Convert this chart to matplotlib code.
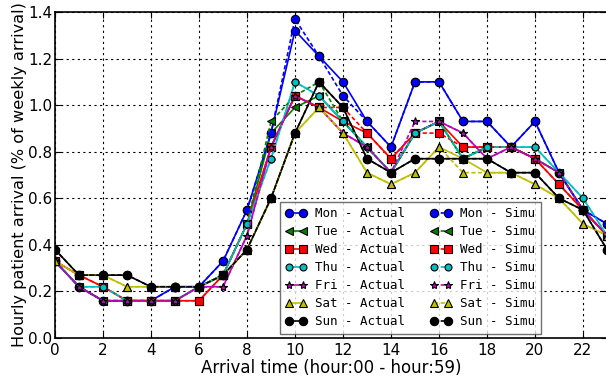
import matplotlib
matplotlib.use("Agg")
import matplotlib.pyplot as plt

hours = list(range(24))

# hourly arrival share (% of weekly arrival)
mon_actual = [0.33, 0.22, 0.16, 0.16, 0.16, 0.22, 0.22, 0.33, 0.55, 0.88, 1.32, 1.21,
              1.10, 0.93, 0.82, 1.10, 1.10, 0.93, 0.93, 0.82, 0.93, 0.71, 0.55, 0.49]
mon_simu = [0.33, 0.22, 0.16, 0.16, 0.16, 0.22, 0.22, 0.33, 0.55, 0.88, 1.37, 1.21,
            1.04, 0.93, 0.82, 1.10, 1.10, 0.93, 0.93, 0.82, 0.93, 0.71, 0.55, 0.49]
tue_actual = [0.33, 0.22, 0.16, 0.16, 0.16, 0.16, 0.22, 0.27, 0.49, 0.88, 0.99, 1.04,
              0.93, 0.82, 0.71, 0.88, 0.93, 0.77, 0.82, 0.82, 0.77, 0.71, 0.55, 0.44]
tue_simu = [0.33, 0.22, 0.16, 0.16, 0.16, 0.16, 0.22, 0.27, 0.49, 0.93, 1.04, 1.10,
            0.93, 0.82, 0.71, 0.88, 0.93, 0.77, 0.82, 0.82, 0.77, 0.71, 0.55, 0.44]
wed_actual = [0.33, 0.27, 0.22, 0.16, 0.16, 0.16, 0.16, 0.27, 0.49, 0.82, 1.04, 0.99,
              0.93, 0.88, 0.77, 0.88, 0.93, 0.82, 0.82, 0.82, 0.77, 0.66, 0.55, 0.44]
wed_simu = [0.33, 0.27, 0.22, 0.16, 0.16, 0.16, 0.16, 0.27, 0.49, 0.82, 1.04, 0.99,
            0.99, 0.88, 0.77, 0.88, 0.88, 0.82, 0.82, 0.82, 0.77, 0.66, 0.55, 0.44]
thu_actual = [0.33, 0.22, 0.22, 0.16, 0.16, 0.16, 0.22, 0.27, 0.49, 0.77, 1.10, 1.04,
              0.93, 0.82, 0.71, 0.88, 0.93, 0.77, 0.82, 0.82, 0.82, 0.71, 0.60, 0.44]
thu_simu = [0.33, 0.22, 0.22, 0.16, 0.16, 0.16, 0.22, 0.27, 0.49, 0.77, 1.10, 1.04,
            0.93, 0.82, 0.71, 0.88, 0.93, 0.77, 0.82, 0.82, 0.82, 0.71, 0.60, 0.44]
fri_actual = [0.33, 0.22, 0.16, 0.16, 0.16, 0.16, 0.22, 0.22, 0.44, 0.82, 1.04, 0.99,
              0.88, 0.82, 0.71, 0.88, 0.93, 0.88, 0.77, 0.82, 0.77, 0.71, 0.55, 0.44]
fri_simu = [0.33, 0.22, 0.16, 0.16, 0.16, 0.16, 0.22, 0.22, 0.44, 0.82, 1.04, 0.99,
            0.88, 0.82, 0.71, 0.93, 0.93, 0.88, 0.77, 0.82, 0.77, 0.71, 0.55, 0.44]
sat_actual = [0.33, 0.27, 0.27, 0.22, 0.22, 0.22, 0.22, 0.27, 0.38, 0.60, 0.88, 0.99,
              0.88, 0.71, 0.66, 0.71, 0.82, 0.77, 0.71, 0.71, 0.66, 0.60, 0.49, 0.44]
sat_simu = [0.33, 0.27, 0.27, 0.22, 0.22, 0.22, 0.22, 0.27, 0.38, 0.60, 0.88, 0.99,
            0.88, 0.71, 0.66, 0.71, 0.82, 0.71, 0.71, 0.71, 0.66, 0.60, 0.49, 0.44]
sun_actual = [0.38, 0.27, 0.27, 0.27, 0.22, 0.22, 0.22, 0.27, 0.38, 0.60, 0.88, 1.10,
              0.99, 0.77, 0.71, 0.77, 0.77, 0.77, 0.77, 0.71, 0.71, 0.60, 0.55, 0.38]
sun_simu = [0.38, 0.27, 0.27, 0.27, 0.22, 0.22, 0.22, 0.27, 0.38, 0.60, 0.88, 1.10,
            0.99, 0.77, 0.71, 0.77, 0.77, 0.77, 0.77, 0.71, 0.71, 0.60, 0.55, 0.38]

days = ["Mon", "Tue", "Wed", "Thu", "Fri", "Sat", "Sun"]
actual = [mon_actual, tue_actual, wed_actual, thu_actual, fri_actual, sat_actual, sun_actual]
simu = [mon_simu, tue_simu, wed_simu, thu_simu, fri_simu, sat_simu, sun_simu]

# classic (pre-2.0) matplotlib look
colors = ["#0000ff", "#008000", "#ff0000", "#00bfbf", "#bf00bf", "#bfbf00", "#000000"]
markers = ["o", "<", "s", "o", "*", "^", "o"]
msizes = [6, 6, 6, 5, 6, 6, 6]

fig = plt.figure(figsize=(6.06, 3.77), dpi=100)
ax = fig.add_axes([55 / 606, 39 / 377, 552 / 606, 326 / 377])

handles = []
for i, d in enumerate(days):
    h, = ax.plot(hours, actual[i], color=colors[i], marker=markers[i], ms=msizes[i],
                 mec="k", mew=0.8, lw=1.2, label=f"{d} - Actual")
    handles.append(h)
for i, d in enumerate(days):
    h, = ax.plot(hours, simu[i], color=colors[i], marker=markers[i], ms=msizes[i],
                 mec="k", mew=0.8, lw=1.2, ls="--", dashes=(2.5, 1.5), label=f"{d} - Simu")
    handles.append(h)

ax.set_xlim(0, 23)
ax.set_ylim(0, 1.4)
ax.set_xticks(range(0, 24, 2))
ax.set_yticks([0.0, 0.2, 0.4, 0.6, 0.8, 1.0, 1.2, 1.4])
ax.set_yticklabels([f"{v:.1f}" for v in [0.0, 0.2, 0.4, 0.6, 0.8, 1.0, 1.2, 1.4]])
ax.grid(True, color="k", ls=(0, (2, 3)), lw=0.8)
ax.tick_params(direction="in", length=4, labelsize=11, top=True, right=True)
ax.tick_params(axis="y", pad=2)
for s in ax.spines.values():
    s.set_linewidth(1.2)

ax.set_xlabel("Arrival time (hour:00 - hour:59)", fontsize=12, labelpad=1)
ax.set_ylabel("Hourly patient arrival (% of weekly arrival)", fontsize=11.6, labelpad=1)

leg = ax.legend(handles=handles, ncol=2, numpoints=2, loc="lower right",
                bbox_to_anchor=(0.88, 0.012), borderaxespad=0, handlelength=1.7,
                labelspacing=0.4, columnspacing=2.0, handletextpad=0.7,
                borderpad=0.45, prop={"family": "DejaVu Sans Mono", "size": 9},
                fancybox=False)
leg.get_frame().set_edgecolor("0.3")
leg.get_frame().set_linewidth(1.0)

fig.savefig("out.png", dpi=100)
